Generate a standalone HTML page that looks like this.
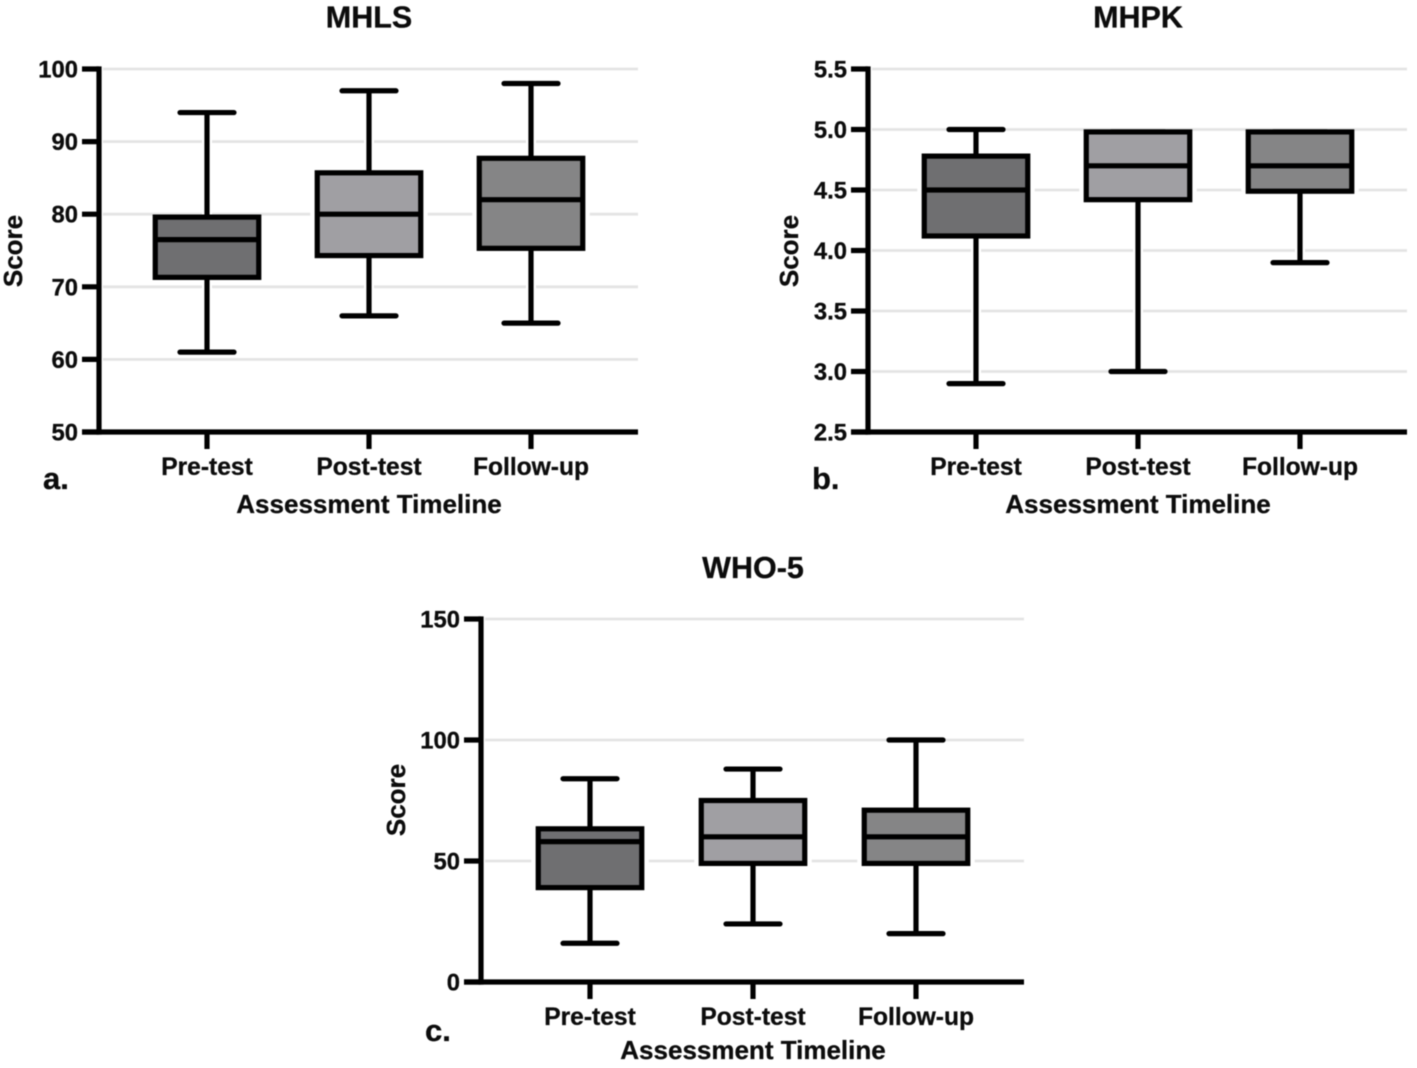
<!DOCTYPE html>
<html lang="en">
<head>
<meta charset="utf-8">
<title>MHLS, MHPK and WHO-5 scores by assessment timeline</title>
<style>
html,body{margin:0;padding:0;background:#fff;}
#figure{display:block;width:1417px;height:1068px;filter:blur(0.45px);}
text{font-family:"Liberation Sans",Arial,sans-serif;font-weight:700;fill:#0c0c0c;stroke:#0c0c0c;stroke-width:0.3px;}
</style>
</head>
<body>
<svg id="figure" xmlns="http://www.w3.org/2000/svg" width="1417" height="1068" viewBox="0 0 1417 1068"></svg>
<script>
const categories = ['Pre-test', 'Post-test', 'Follow-up'];

const mhlsTicks = [50, 60, 70, 80, 90, 100];
const mhlsTickLabels = ['50', '60', '70', '80', '90', '100'];
const mhlsMin = [61, 66, 65];
const mhlsQ1 = [71.3, 74.3, 75.3];
const mhlsMedian = [76.5, 80, 82];
const mhlsQ3 = [79.6, 85.7, 87.7];
const mhlsMax = [94, 97, 98];

const mhpkTicks = [2.5, 3.0, 3.5, 4.0, 4.5, 5.0, 5.5];
const mhpkTickLabels = ['2.5', '3.0', '3.5', '4.0', '4.5', '5.0', '5.5'];
const mhpkMin = [2.9, 3.0, 3.9];
const mhpkQ1 = [4.12, 4.42, 4.49];
const mhpkMedian = [4.5, 4.7, 4.7];
const mhpkQ3 = [4.78, 4.98, 4.98];
const mhpkMax = [5.0, 4.98, 4.98];

const whoTicks = [0, 50, 100, 150];
const whoTickLabels = ['0', '50', '100', '150'];
const whoMin = [16, 24, 20];
const whoQ1 = [39, 49, 49];
const whoMedian = [58, 60, 60];
const whoQ3 = [63.3, 75, 71];
const whoMax = [84, 88, 100];

const boxFills = ['#6f6f71', '#a09fa3', '#858586'];

const NS = 'http://www.w3.org/2000/svg';
const root = document.getElementById('figure');

function make(tag, attrs, parent, content) {
  const el = document.createElementNS(NS, tag);
  for (const k in attrs) el.setAttribute(k, attrs[k]);
  if (content !== undefined) el.textContent = content;
  parent.appendChild(el);
  return el;
}

function drawPanel(p) {
  const g = make('g', {}, root);
  
  

  const yScale = v => p.bottom - (v - p.ticks[0]) / (p.ticks[p.ticks.length - 1] - p.ticks[0]) * (p.bottom - p.top);
  const xScale = i => p.firstX + i * p.stepX;
  const ink = '#000';
  const sw = 5.2;

  const title = make('text', {x: p.titleX, y: p.titleY, 'text-anchor': 'middle', 'font-size': 30.5}, g, p.title);
  
  

  p.ticks.forEach(function (t, i) {
    if (i === 0) return;
    const grid = make('line', {x1: p.axisX + 4, x2: p.right, y1: yScale(t), y2: yScale(t), stroke: '#e4e4e4', 'stroke-width': 2.8}, g);
    
    
  });

  categories.forEach(function (c, i) {
    const x = xScale(i);
    const yMax = yScale(p.max[i]), yMin = yScale(p.min[i]);
    const yQ1 = yScale(p.q1[i]), yQ3 = yScale(p.q3[i]), yMed = yScale(p.median[i]);
    const w = 103.5;

    const box = make('g', {}, g);
    
    

    make('line', {x1: x, x2: x, y1: yMax, y2: yMin, stroke: '#fff', 'stroke-width': 10}, box);
    make('rect', {x: x - w / 2 - 7, y: yQ3, width: 7, height: yQ1 - yQ3, fill: '#fff'}, box);
    make('rect', {x: x + w / 2, y: yQ3, width: 7, height: yQ1 - yQ3, fill: '#fff'}, box);

    make('line', {x1: x, x2: x, y1: yMax, y2: yMin, stroke: ink, 'stroke-width': sw}, box);
    make('line', {x1: x - 27, x2: x + 27, y1: yMax, y2: yMax, stroke: ink, 'stroke-width': sw, 'stroke-linecap': 'round'}, box);
    make('line', {x1: x - 27, x2: x + 27, y1: yMin, y2: yMin, stroke: ink, 'stroke-width': sw, 'stroke-linecap': 'round'}, box);
    make('rect', {x: x - w / 2, y: yQ3, width: w, height: yQ1 - yQ3, fill: boxFills[i], stroke: ink, 'stroke-width': sw}, box);
    make('line', {x1: x - w / 2, x2: x + w / 2, y1: yMed, y2: yMed, stroke: ink, 'stroke-width': sw}, box);

    const xTick = make('line', {x1: x, x2: x, y1: p.bottom, y2: p.bottom + 17, stroke: ink, 'stroke-width': sw}, g);
    
    

    const label = make('text', {x: x, y: p.bottom + 43, 'text-anchor': 'middle', 'font-size': 24.6}, g, c);
    
    
  });

  const yAxis = make('line', {x1: p.axisX, x2: p.axisX, y1: p.top - 2.6, y2: p.bottom + 2.6, stroke: ink, 'stroke-width': 5.2}, g);
  
  

  const xAxis = make('line', {x1: p.axisX - 17, x2: p.right, y1: p.bottom, y2: p.bottom, stroke: ink, 'stroke-width': 5.2}, g);
  
  

  p.ticks.forEach(function (t, i) {
    const y = yScale(t);
    const tick = make('line', {x1: p.axisX - 17, x2: p.axisX, y1: y, y2: y, stroke: ink, 'stroke-width': sw}, g);
    
    

    const label = make('text', {x: p.axisX - 21, y: y + 8.5, 'text-anchor': 'end', 'font-size': 23.8}, g, p.tickLabels[i]);
    
    
  });

  const yTitle = make('text', {transform: 'translate(' + p.scoreX + ' ' + p.scoreY + ') rotate(-90)', 'text-anchor': 'middle', 'font-size': 26}, g, 'Score');
  
  

  const xTitle = make('text', {x: p.titleX, y: p.xTitleY, 'text-anchor': 'middle', 'font-size': 26}, g, 'Assessment Timeline');
  
  

  const letter = make('text', {x: p.letterX, y: p.letterY, 'font-size': 31}, g, p.letter);
  
  
}

drawPanel({
  id: 'mhls', title: 'MHLS', letter: 'a.',
  ticks: mhlsTicks, tickLabels: mhlsTickLabels,
  min: mhlsMin, q1: mhlsQ1, median: mhlsMedian, q3: mhlsQ3, max: mhlsMax,
  axisX: 99, right: 638, top: 69, bottom: 432, firstX: 207, stepX: 162,
  titleX: 369, titleY: 27.5, xTitleY: 513, scoreX: 22, scoreY: 251, letterX: 43, letterY: 489
});

drawPanel({
  id: 'mhpk', title: 'MHPK', letter: 'b.',
  ticks: mhpkTicks, tickLabels: mhpkTickLabels,
  min: mhpkMin, q1: mhpkQ1, median: mhpkMedian, q3: mhpkQ3, max: mhpkMax,
  axisX: 868, right: 1407, top: 69, bottom: 432, firstX: 976, stepX: 162,
  titleX: 1138, titleY: 27.5, xTitleY: 513, scoreX: 798, scoreY: 251, letterX: 812, letterY: 489
});

drawPanel({
  id: 'who5', title: 'WHO-5', letter: 'c.',
  ticks: whoTicks, tickLabels: whoTickLabels,
  min: whoMin, q1: whoQ1, median: whoMedian, q3: whoQ3, max: whoMax,
  axisX: 481, right: 1024, top: 619, bottom: 982, firstX: 590, stepX: 163,
  titleX: 753, titleY: 578, xTitleY: 1059, scoreX: 405, scoreY: 800, letterX: 425, letterY: 1041
});
</script>
</body>
</html>
